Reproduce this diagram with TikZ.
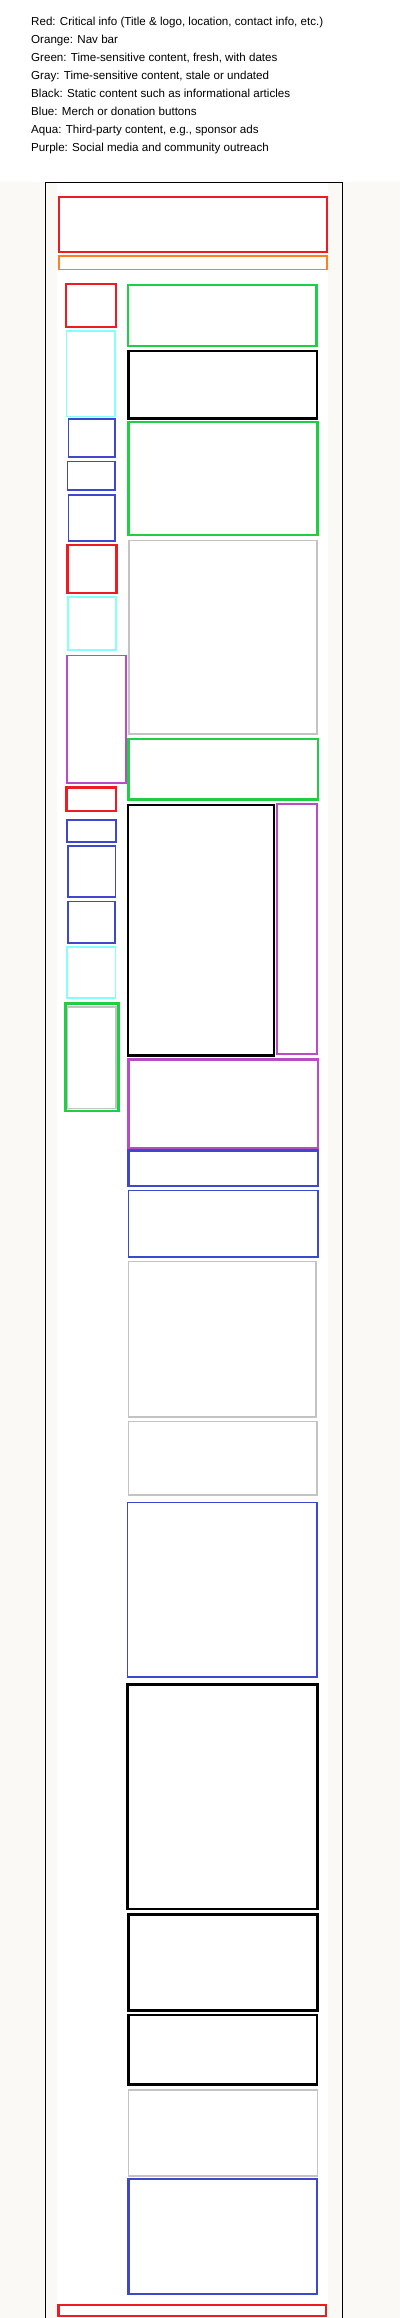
\documentclass[tikz,border=0pt]{standalone}
\usepackage{fontspec}
\setmainfont{Liberation Sans}
\definecolor{cRed}{HTML}{ED1C24}
\definecolor{cOrange}{HTML}{FF7F27}
\definecolor{cGreen}{HTML}{1ECF46}
\definecolor{cBlue}{HTML}{3F48CC}
\definecolor{cAqua}{HTML}{85FFFC}
\definecolor{cPurple}{HTML}{B94CC4}
\definecolor{cGray}{HTML}{C3C3C3}
\definecolor{cPaper}{HTML}{FAF9F5}
\tikzset{
  legendtext/.style={anchor=base west, inner sep=0pt, font=\fontsize{11.6}{13}\selectfont},
  zone/.style={line width=2.1pt, fill=white},
  redbox/.style={zone, draw=cRed},
  orangebox/.style={zone, draw=cOrange},
  greenbox/.style={zone, draw=cGreen},
  blackbox/.style={zone, draw=black},
  bluebox/.style={zone, draw=cBlue, line width=1.9pt},
  aquabox/.style={zone, draw=cAqua, line width=1.9pt},
  purplebox/.style={zone, draw=cPurple, line width=1.9pt},
  graybox/.style={zone, draw=cGray, line width=1.8pt},
  frameline/.style={draw=black, line width=0.9pt},
}
\begin{document}
\begin{tikzpicture}[x=1pt, y=-1pt]
\useasboundingbox (0,0) rectangle (400,2318);
% backgrounds
\fill[white] (0,0) rectangle (400,182);
\fill[cPaper] (0,182) rectangle (400,2318);
\fill[white] (57,183) rectangle (328,2318);
% legend
\node[legendtext] (l1) at (31,25) {Red: Critical info (Title \& logo, location, contact info, etc.)};
\node[legendtext] (l2) at (31,43) {Orange: Nav bar};
\node[legendtext] (l3) at (31,61) {Green: Time-sensitive content, fresh, with dates};
\node[legendtext] (l4) at (31,79) {Gray: Time-sensitive content, stale or undated};
\node[legendtext] (l5) at (31,97) {Black: Static content such as informational articles};
\node[legendtext] (l6) at (31,115) {Blue: Merch or donation buttons};
\node[legendtext] (l7) at (31,133) {Aqua: Third-party content, e.g., sponsor ads};
\node[legendtext] (l8) at (31,151) {Purple: Social media and community outreach};
% page frame
\draw[frameline] (45.5,2320) -- (45.5,182) -- (342.5,182) -- (342.5,2320);
% header
\draw[redbox] (59,197) rectangle (327,252);
\draw[orangebox, line width=1.7pt] (59,256) rectangle (327,269.5);
% left column
\draw[redbox] (66,284) rectangle (116,327);
\draw[aquabox] (66.5,331) rectangle (115,416.5);
\draw[bluebox] (68.5,419) rectangle (115,457);
\draw[bluebox] (67.5,461.5) rectangle (115,490);
\draw[bluebox] (68.5,495) rectangle (115,541);
\draw[redbox] (67.5,545) rectangle (116.5,593);
\draw[aquabox] (68,597) rectangle (116,650);
\draw[purplebox] (67,655.5) rectangle (126,783);
\draw[redbox] (66.5,787.5) rectangle (116,811);
\draw[bluebox] (67,820) rectangle (116,842);
\draw[bluebox] (68,846) rectangle (115.5,897);
\draw[bluebox] (68,901.5) rectangle (115,943);
\draw[aquabox] (67,947) rectangle (115.5,998);
\draw[greenbox] (65.5,1003.5) rectangle (118.5,1111);
\draw[cGray, line width=1.5pt] (67.5,1007) rectangle (116,1108.5);
% main column
\draw[greenbox] (128,285) rectangle (316.5,346);
\draw[blackbox] (128.5,351) rectangle (317,418.5);
\draw[greenbox] (128.5,422) rectangle (317.5,535);
\draw[graybox] (129,540.5) rectangle (317,734);
\draw[greenbox] (128.5,739) rectangle (318,799.5);
\draw[blackbox] (128,805) rectangle (274,1055.5);
\draw[purplebox] (277,804) rectangle (317,1054);
\draw[purplebox, line width=2.1pt] (128.5,1059.5) rectangle (318,1148.5);
\draw[bluebox, line width=2.1pt] (128.5,1150.5) rectangle (318,1186);
\draw[bluebox] (128.5,1190.5) rectangle (318,1257);
\draw[graybox] (128.5,1261.5) rectangle (316,1417);
\draw[graybox] (128.5,1421.5) rectangle (317,1495);
\draw[bluebox] (127.5,1502.5) rectangle (317,1677);
\draw[blackbox] (127.5,1684.5) rectangle (317.5,1909);
\draw[blackbox] (128.5,1914.5) rectangle (317.5,2010.5);
\draw[blackbox] (128.5,2015) rectangle (317,2084.5);
\draw[graybox] (128.5,2090) rectangle (317.5,2176);
\draw[bluebox, line width=2.1pt] (128.5,2179) rectangle (317,2294);
% footer
\draw[redbox] (58.5,2305) rectangle (326,2316);
\end{tikzpicture}
\end{document}
